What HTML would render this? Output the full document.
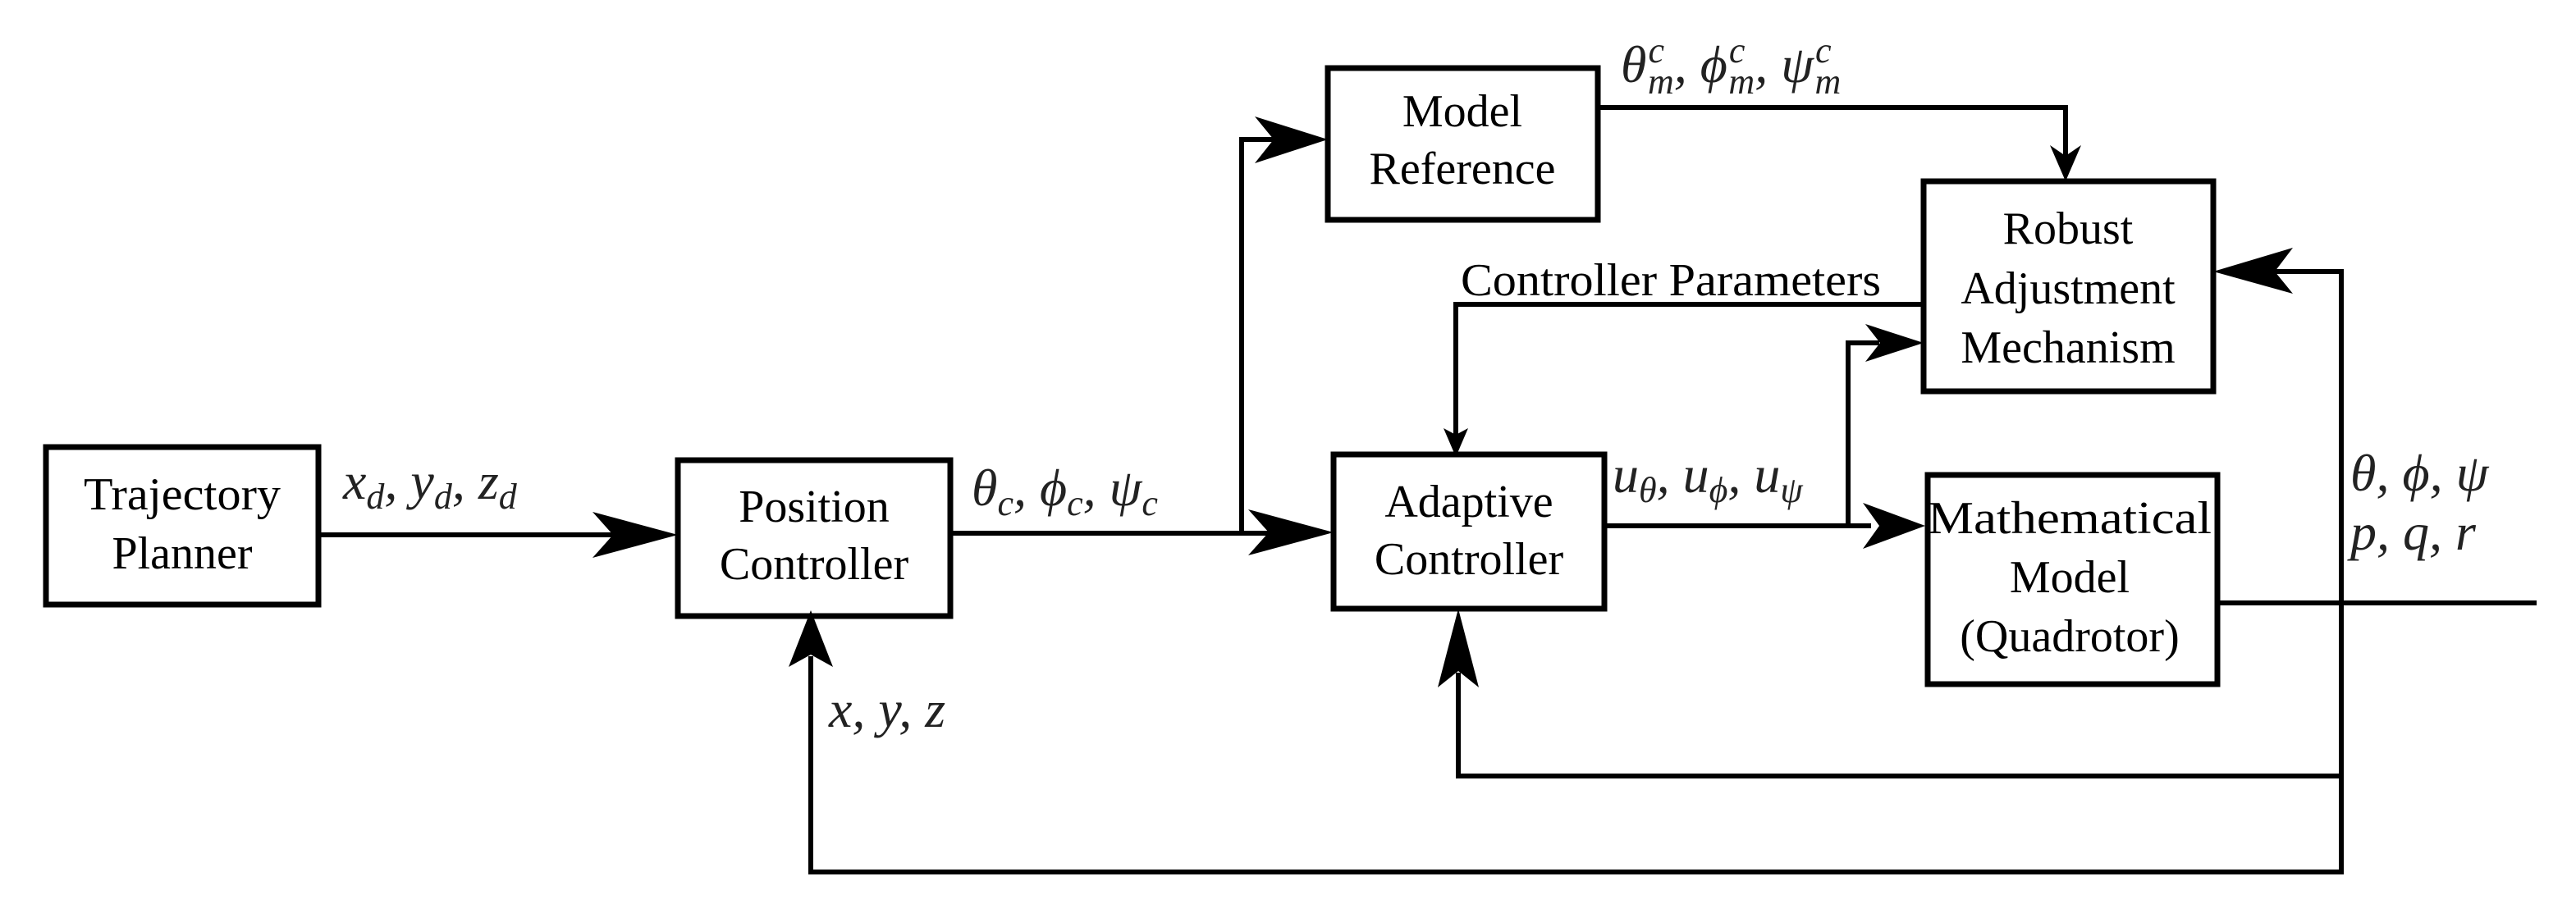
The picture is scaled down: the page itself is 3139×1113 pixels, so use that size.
<!DOCTYPE html>
<html><head><meta charset="utf-8"><style>
html,body{margin:0;padding:0;background:#fff;}
svg{display:block;}
.b{fill:none;stroke:#000;stroke-width:7;}
.l{fill:none;stroke:#000;stroke-width:6;}
.t{font-family:"Liberation Serif",serif;font-size:56px;fill:#000;}
.m{font-family:"Liberation Serif",serif;font-style:italic;font-size:64px;fill:#222;}
</style></head><body>
<svg width="3139" height="1113" viewBox="0 0 3139 1113" xmlns="http://www.w3.org/2000/svg">
<rect class="b" x="56" y="545" width="332" height="192"/>
<rect class="b" x="826" y="561" width="332" height="190"/>
<rect class="b" x="1618" y="83" width="329" height="185"/>
<rect class="b" x="2344" y="221" width="353" height="256"/>
<rect class="b" x="1625" y="554" width="330" height="188"/>
<rect class="b" x="2349" y="579" width="353" height="255"/>

<text class="t" x="222" y="621" text-anchor="middle" textLength="240" lengthAdjust="spacingAndGlyphs">Trajectory</text>
<text class="t" x="222" y="693" text-anchor="middle">Planner</text>
<text class="t" x="992" y="636" text-anchor="middle">Position</text>
<text class="t" x="992" y="706" text-anchor="middle">Controller</text>
<text class="t" x="1782" y="154" text-anchor="middle">Model</text>
<text class="t" x="1782" y="224" text-anchor="middle">Reference</text>
<text class="t" x="2520" y="297" text-anchor="middle">Robust</text>
<text class="t" x="2520" y="370" text-anchor="middle">Adjustment</text>
<text class="t" x="2520" y="442" text-anchor="middle">Mechanism</text>
<text class="t" x="1790" y="630" text-anchor="middle">Adaptive</text>
<text class="t" x="1790" y="700" text-anchor="middle">Controller</text>
<text class="t" x="2522" y="650" text-anchor="middle" textLength="346" lengthAdjust="spacingAndGlyphs">Mathematical</text>
<text class="t" x="2522" y="722" text-anchor="middle">Model</text>
<text class="t" x="2522" y="794" text-anchor="middle">(Quadrotor)</text>
<text class="t" x="1780" y="360" textLength="512" lengthAdjust="spacingAndGlyphs">Controller Parameters</text>

<path class="l" d="M388 652 H760"/>
<path class="l" d="M1158 650 H1560"/>
<path class="l" d="M1513 650 V170 H1560"/>
<path class="l" d="M1947 131 H2517 V190"/>
<path class="l" d="M2344 371 H1774 V530"/>
<path class="l" d="M1955 641 H2280"/>
<path class="l" d="M2252 641 V418 H2290"/>
<path class="l" d="M2702 735 H3091"/>
<path class="l" d="M2760 331 H2853 V1063 H988 V800"/>
<path class="l" d="M2853 946 H1777 V820"/>

<polygon points="826,652 722,624 747,652 722,680"/>
<polygon points="1625,649 1521,621 1546,649 1521,677"/>
<polygon points="1618,170 1529,142 1552,170 1529,199"/>
<polygon points="2517,221 2498,177 2517,190 2536,177"/>
<polygon points="2344,418 2273,395 2291,418 2273,441"/>
<polygon points="2346,641 2270,613 2290,641 2270,669"/>
<polygon points="1774,557 1759,522 1774,530 1789,522"/>
<polygon points="2697,331 2794,302 2772,331 2794,358"/>
<polygon points="988,744 961,813 988,798 1015,813"/>
<polygon points="1777,742 1752,838 1777,818 1802,838"/>

<text class="m" x="418" y="608">x<tspan font-size="44" dy="12">d</tspan><tspan dy="-12">, y</tspan><tspan font-size="44" dy="12">d</tspan><tspan dy="-12">, z</tspan><tspan font-size="44" dy="12">d</tspan></text>
<text class="m" x="1184" y="616">θ<tspan font-size="44" dy="12">c</tspan><tspan dy="-12">, ϕ</tspan><tspan font-size="44" dy="12">c</tspan><tspan dy="-12">, ψ</tspan><tspan font-size="44" dy="12">c</tspan></text>
<text class="m" x="1010" y="886">x, y, z</text>
<text class="m" x="1975" y="100">θ<tspan font-size="44" dx="2" dy="-24">c</tspan><tspan font-size="44" dx="-20" dy="38">m</tspan><tspan dy="-14">, ϕ</tspan><tspan font-size="44" dx="2" dy="-24">c</tspan><tspan font-size="44" dx="-20" dy="38">m</tspan><tspan dy="-14">, ψ</tspan><tspan font-size="44" dx="2" dy="-24">c</tspan><tspan font-size="44" dx="-20" dy="38">m</tspan></text>
<text class="m" x="1965" y="600">u<tspan font-size="44" dy="12">θ</tspan><tspan dy="-12">, u</tspan><tspan font-size="44" dy="12">ϕ</tspan><tspan dy="-12">, u</tspan><tspan font-size="44" dy="12">ψ</tspan></text>
<text class="m" x="2864" y="598">θ, ϕ, ψ</text>
<text class="m" x="2864" y="670">p, q, r</text>
</svg>
</body></html>
